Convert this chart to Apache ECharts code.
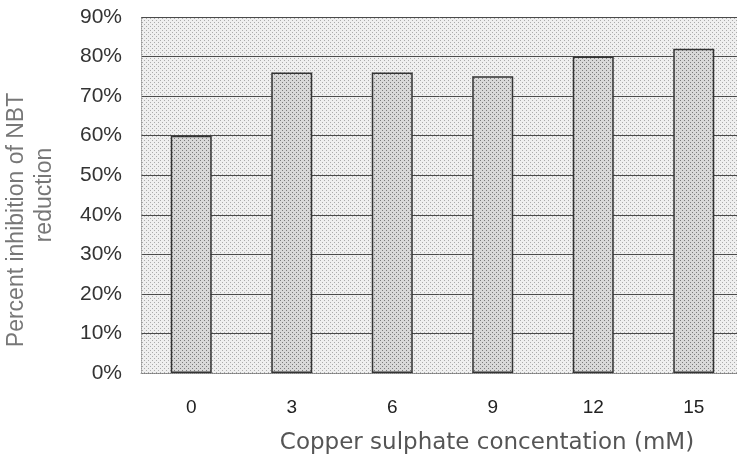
<!DOCTYPE html>
<html>
<head>
<meta charset="utf-8">
<script src="https://cdn.jsdelivr.net/npm/echarts@6/dist/echarts.min.js"></script>
<style>
  html, body { margin: 0; padding: 0; background: #fff; }
  #main { width: 737px; height: 457px; }
</style>
</head>
<body>
<div id="main"></div>
<script>
const categories = ['0', '3', '6', '9', '12', '15'];
const inhibition = [60, 76, 76, 75, 80, 82];
const yTicks = [0, 10, 20, 30, 40, 50, 60, 70, 80, 90];

// small stipple tile to mimic the photocopied dot screen
function stipple(bg, dot, step) {
  const c = document.createElement('canvas');
  c.width = step * 2; c.height = step * 2;
  const g = c.getContext('2d');
  g.fillStyle = bg;
  g.fillRect(0, 0, c.width, c.height);
  g.fillStyle = dot;
  g.fillRect(0, 0, 1, 1);
  g.fillRect(step, step, 1, 1);
  return { image: c, repeat: 'repeat' };
}

const chart = echarts.init(document.getElementById('main'));

const option = {
  animation: false,
  textStyle: { fontFamily: 'Liberation Sans, Arial, sans-serif' },
  grid: {
    left: 141, top: 17, width: 603, height: 356,
    outerBoundsMode: 'none',
    containLabel: false,
    show: true,
    backgroundColor: stipple('#efefef', '#ababab', 2),
    borderWidth: 0
  },
  xAxis: {
    type: 'category',
    data: categories,
    name: 'Copper sulphate concentation (mM)',
    nameLocation: 'middle',
    nameGap: 59,
    nameTextStyle: {
      fontSize: 23, color: '#555', fontFamily: 'DejaVu Sans',
      padding: [0, 0, 0, 89]
    },
    axisLine: { show: true, lineStyle: { color: '#999', type: 'dotted' } },
    axisTick: { show: false },
    axisLabel: { fontSize: 19, color: '#222', margin: 25 }
  },
  yAxis: {
    type: 'value',
    min: 0, max: 90, interval: 10,
    name: '{a|Percent inhibition of NBT}\n{b|reduction}',
    nameLocation: 'middle',
    nameGap: 82,
    nameTextStyle: {
      color: '#777',
      rich: {
        a: { fontSize: 23, lineHeight: 28, color: '#777', padding: [0, 50, 0, 0] },
        b: { fontSize: 23, lineHeight: 28, color: '#777' }
      }
    },
    axisLine: { show: true, lineStyle: { color: '#999', type: 'dotted' } },
    axisTick: { show: false },
    axisLabel: {
      fontSize: 21, color: '#333', margin: 19,
      formatter: v => yTicks.includes(v) ? v + '%' : ''
    },
    splitLine: { show: true, lineStyle: { color: '#4a4a4a', width: 1 } }
  },
  series: [{
    type: 'bar',
    data: inhibition,
    barWidth: 41,
    itemStyle: {
      color: stipple('#d8d8d8', '#7a7a7a', 2),
      borderColor: '#333',
      borderWidth: 1.5
    }
  }]
};

chart.setOption(option);
</script>
</body>
</html>
